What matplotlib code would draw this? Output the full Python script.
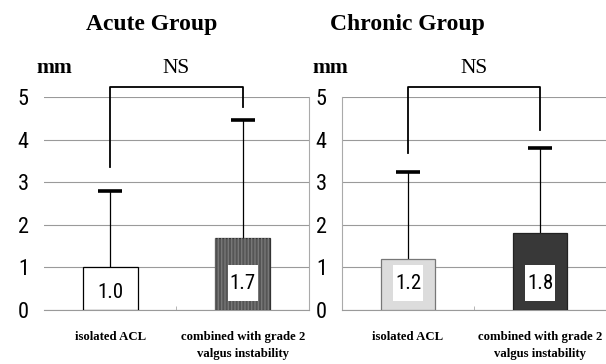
import matplotlib
matplotlib.use("Agg")
import matplotlib.pyplot as plt
from matplotlib import font_manager
import numpy as np

groups = ["Acute Group", "Chronic Group"]
categories = ["isolated ACL", "combined with grade 2\nvalgus instability"]
acute_means = [1.0, 1.7]
acute_upper = [2.8, 4.47]          # top of error bar (mean + SD)
chronic_means = [1.2, 1.8]
chronic_upper = [3.25, 3.82]
acute_bracket = [3.36, 4.78]       # lower ends of the NS bracket legs
chronic_bracket = [3.69, 4.23]
bracket_top = 5.25
yticks = [0, 1, 2, 3, 4, 5]
sig_label = "NS"
unit_label = "mm"

bar_colors = {"Acute Group": ["white", "#555555"], "Chronic Group": ["#dcdcdc", "#383838"]}
edge_colors = {"Acute Group": ["black", "#333333"], "Chronic Group": ["#777777", "#222222"]}
inner_box = {"Acute Group": [False, True], "Chronic Group": [True, True]}

names = {f.name for f in font_manager.fontManager.ttflist}
narrow_candidates = ["Liberation Sans Narrow", "DejaVu Sans Condensed", "Roboto Condensed",
                     "Open Sans Condensed", "Noto Sans", "DejaVu Sans"]
NARROW = [n for n in narrow_candidates if n in names] or ["DejaVu Sans"]
SERIF = ["Liberation Serif", "DejaVu Serif"]
NUM_KW = dict(family=NARROW, stretch="condensed")

fig = plt.figure(figsize=(6.06, 3.64), dpi=100)
fig.patch.set_facecolor("white")

ax_specs = [
    (groups[0], acute_means, acute_upper, acute_bracket, [0.0726, 0.1484, 0.4373, 0.5838]),
    (groups[1], chronic_means, chronic_upper, chronic_bracket, [0.5644, 0.1484, 0.4356, 0.5838]),
]
title_x = [0.251, 0.672]
mm_x = [0.089, 0.545]
BAR_W = 0.415
x = np.arange(len(categories))

for i, (g, means, upper, brk, rect) in enumerate(ax_specs):
    ax = fig.add_axes(rect)
    ax.set_xlim(-0.5, 1.5)
    ax.set_ylim(0, 5)
    ax.set_yticks(yticks)
    ax.set_yticklabels([str(t) for t in yticks], fontsize=16, **NUM_KW)
    ax.tick_params(axis="y", length=0, pad=11)
    ax.set_xticks(x)
    ax.set_xticklabels(categories, family=SERIF, fontweight="bold", fontsize=9.2,
                       linespacing=1.6, va="top")
    ax.tick_params(axis="x", length=0, pad=15)
    ax.set_xticks([0.5], minor=True)
    ax.tick_params(axis="x", which="minor", direction="in", length=3, color="#aaaaaa")
    ax.grid(axis="y", color="#9a9a9a", linewidth=0.8)
    ax.set_axisbelow(True)
    for s in ["top", "left", "right", "bottom"]:
        ax.spines[s].set_visible(False)
    ax.spines["bottom"].set_visible(True)
    ax.spines["bottom"].set_color("#9a9a9a")
    if i == 0:
        ax.spines["right"].set_visible(True)
        ax.spines["right"].set_color("#aaaaaa")
    else:
        ax.spines["left"].set_visible(True)
        ax.spines["left"].set_color("#aaaaaa")

    means = np.array(means)
    upper = np.array(upper)
    # error bars (upper only)
    ax.errorbar(x, upper, yerr=[upper - means, np.zeros_like(means)], fmt="none",
                ecolor="black", elinewidth=0.9, capsize=0, zorder=2)
    ax.errorbar(x, upper, xerr=0.09, fmt="none", ecolor="black", elinewidth=2.6,
                capsize=0, zorder=3)
    ax.bar(x, means, width=BAR_W, color=bar_colors[g], edgecolor=edge_colors[g],
           linewidth=0.9, zorder=4)
    if g == "Acute Group":
        ax.bar([1], [means[1]], width=BAR_W, color="none", edgecolor="#777777",
               hatch="|||||", linewidth=0, zorder=4)
    for j, m in enumerate(means):
        if inner_box[g][j]:
            ax.bar([x[j]], [0.86], bottom=0.2, width=BAR_W * 0.55, color="white",
                   edgecolor="none", zorder=5)
            ty = 0.62
        else:
            ty = 0.42
        ax.text(x[j], ty, f"{m:.1f}", ha="center", va="center", fontsize=15,
                zorder=6, **NUM_KW)

    # NS bracket
    ax.plot([x[0], x[0], x[1], x[1]], [brk[0], bracket_top, bracket_top, brk[1]],
            color="black", linewidth=1.3, clip_on=False, zorder=3)
    ax.text(0.5, 5.69, sig_label, ha="center", va="center", family=SERIF,
            fontsize=15.5)

    fig.text(title_x[i], 0.934, g, ha="center", va="center", family=SERIF,
             fontweight="bold", fontsize=17)
    fig.text(mm_x[i], 0.813, unit_label, ha="center", va="center", family=SERIF,
             fontweight="bold", fontsize=15.5)

fig.savefig("out.png", dpi=100)
